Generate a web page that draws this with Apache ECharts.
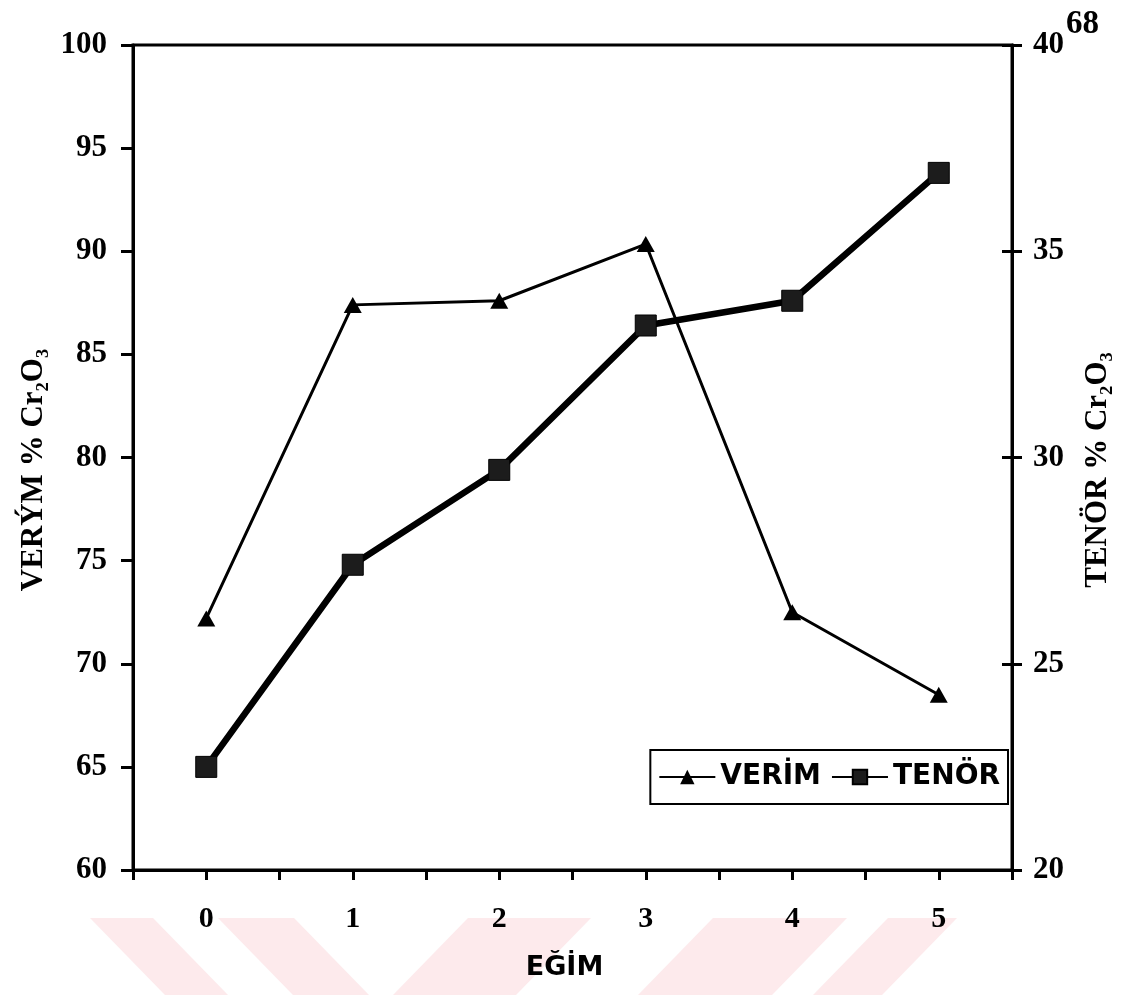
<!DOCTYPE html>
<html>
<head>
    <meta charset="utf-8">
    <script type="text/javascript" src="https://cdn.jsdelivr.net/npm/echarts@6/dist/echarts.min.js"></script>
</head>
<body style="margin: 0; background: #fff">
    <div id="main" style="width: 1123px; height: 995px"></div>
    <script type="text/javascript">
        // EĞİM values on the x axis
        var egim = [0, 1, 2, 3, 4, 5];
        // VERİM % Cr2O3 (left axis)
        var verim = [72.2, 87.4, 87.6, 90.35, 72.5, 68.5];
        // TENÖR % Cr2O3 (right axis)
        var tenor = [22.5, 27.4, 29.7, 33.2, 33.8, 36.9];

        var serif = '"Liberation Serif", "Times New Roman", serif';
        var sans = 'DejaVu Sans';

        // faint pink watermark bands at the bottom of the page
        var bands = [
            [[90, 918], [153, 918], [228, 995], [165, 995]],
            [[218, 918], [294, 918], [369, 995], [293, 995]],
            [[468, 918], [591, 918], [516, 995], [393, 995]],
            [[713, 918], [847, 918], [772, 995], [638, 995]],
            [[888, 918], [957, 918], [882, 995], [813, 995]]
        ];

        var chart = echarts.init(document.getElementById('main'));
        var option = {
            backgroundColor: '#fff',
            animation: false,
            graphic: bands.map(function (b) {
                return {
                    type: 'polygon',
                    z: -10,
                    shape: { points: b },
                    style: { fill: '#fdeaec' }
                };
            }).concat([{
                type: 'text',
                left: 1066,
                top: 8,
                style: { text: '68', font: 'bold 33px "Liberation Serif"', fill: '#000' }
            }]),
            grid: {
                left: 133,
                right: 111,
                top: 45,
                bottom: 125,
                show: true,
                borderColor: '#000',
                borderWidth: 3
            },
            legend: {
                right: 115,
                top: 750,
                padding: [13, 8, 13, 8],
                borderColor: '#000',
                borderWidth: 2,
                backgroundColor: '#fff',
                itemWidth: 56,
                itemHeight: 18,
                itemGap: 10,
                textStyle: { fontFamily: sans, fontWeight: 'bold', fontSize: 28, color: '#000' },
                data: ['VERİM', 'TENÖR']
            },
            xAxis: {
                type: 'value',
                min: -0.5,
                max: 5.5,
                interval: 0.5,
                name: 'EĞİM',
                nameLocation: 'middle',
                nameGap: 84,
                nameTextStyle: { fontFamily: sans, fontWeight: 'bold', fontSize: 27, color: '#000', padding: [0, 16, 0, 0] },
                axisLine: { onZero: false, lineStyle: { color: '#000', width: 3 } },
                axisTick: { length: 10, lineStyle: { color: '#000', width: 3 } },
                splitLine: { show: false },
                axisLabel: {
                    margin: 34,
                    fontFamily: serif,
                    fontWeight: 'bold',
                    fontSize: 30,
                    color: '#000',
                    formatter: function (v) {
                        return Math.abs(v - Math.round(v)) < 1e-6 ? String(Math.round(v)) : '';
                    }
                }
            },
            yAxis: [{
                type: 'value',
                position: 'left',
                min: 60,
                max: 100,
                interval: 5,
                name: 'VERÝM % Cr₂O₃',
                nameLocation: 'middle',
                nameRotate: 90,
                nameGap: 82,
                nameTextStyle: { fontFamily: serif, fontWeight: 'bold', fontSize: 31, color: '#000', padding: [0, 0, 0, -25] },
                axisLine: { show: true, onZero: false, lineStyle: { color: '#000', width: 3 } },
                axisTick: { show: true, length: 12, lineStyle: { color: '#000', width: 3 } },
                splitLine: { show: false },
                axisLabel: { margin: 26, fontFamily: serif, fontWeight: 'bold', fontSize: 31, color: '#000' }
            }, {
                type: 'value',
                position: 'right',
                min: 20,
                max: 40,
                interval: 5,
                name: 'TENÖR % Cr₂O₃',
                nameLocation: 'middle',
                nameRotate: 90,
                nameGap: 70,
                nameTextStyle: { fontFamily: serif, fontWeight: 'bold', fontSize: 31, color: '#000', padding: [0, 0, 0, -25] },
                axisLine: { show: true, onZero: false, lineStyle: { color: '#000', width: 3 } },
                axisTick: { show: true, length: 10, lineStyle: { color: '#000', width: 3 } },
                splitLine: { show: false },
                axisLabel: { margin: 21, fontFamily: serif, fontWeight: 'bold', fontSize: 31, color: '#000' }
            }, {
                // inner half of the crossing ticks on the right axis
                type: 'value',
                position: 'right',
                min: 20,
                max: 40,
                interval: 5,
                axisLine: { show: false, onZero: false },
                axisTick: { show: true, inside: true, length: 10, lineStyle: { color: '#000', width: 3 } },
                axisLabel: { show: false },
                splitLine: { show: false }
            }],
            series: [{
                name: 'VERİM',
                type: 'line',
                yAxisIndex: 0,
                data: egim.map(function (x, i) { return [x, verim[i]]; }),
                symbol: 'triangle',
                symbolSize: [18, 16],
                itemStyle: { color: '#000' },
                lineStyle: { color: '#000', width: 3 },
                z: 3
            }, {
                name: 'TENÖR',
                type: 'line',
                yAxisIndex: 1,
                data: egim.map(function (x, i) { return [x, tenor[i]]; }),
                symbol: 'rect',
                symbolSize: 21,
                itemStyle: { color: '#1c1c1c', borderColor: '#000', borderWidth: 1 },
                lineStyle: { color: '#000', width: 6.5 },
                z: 2
            }]
        };
        chart.setOption(option);
    </script>
</body>
</html>
